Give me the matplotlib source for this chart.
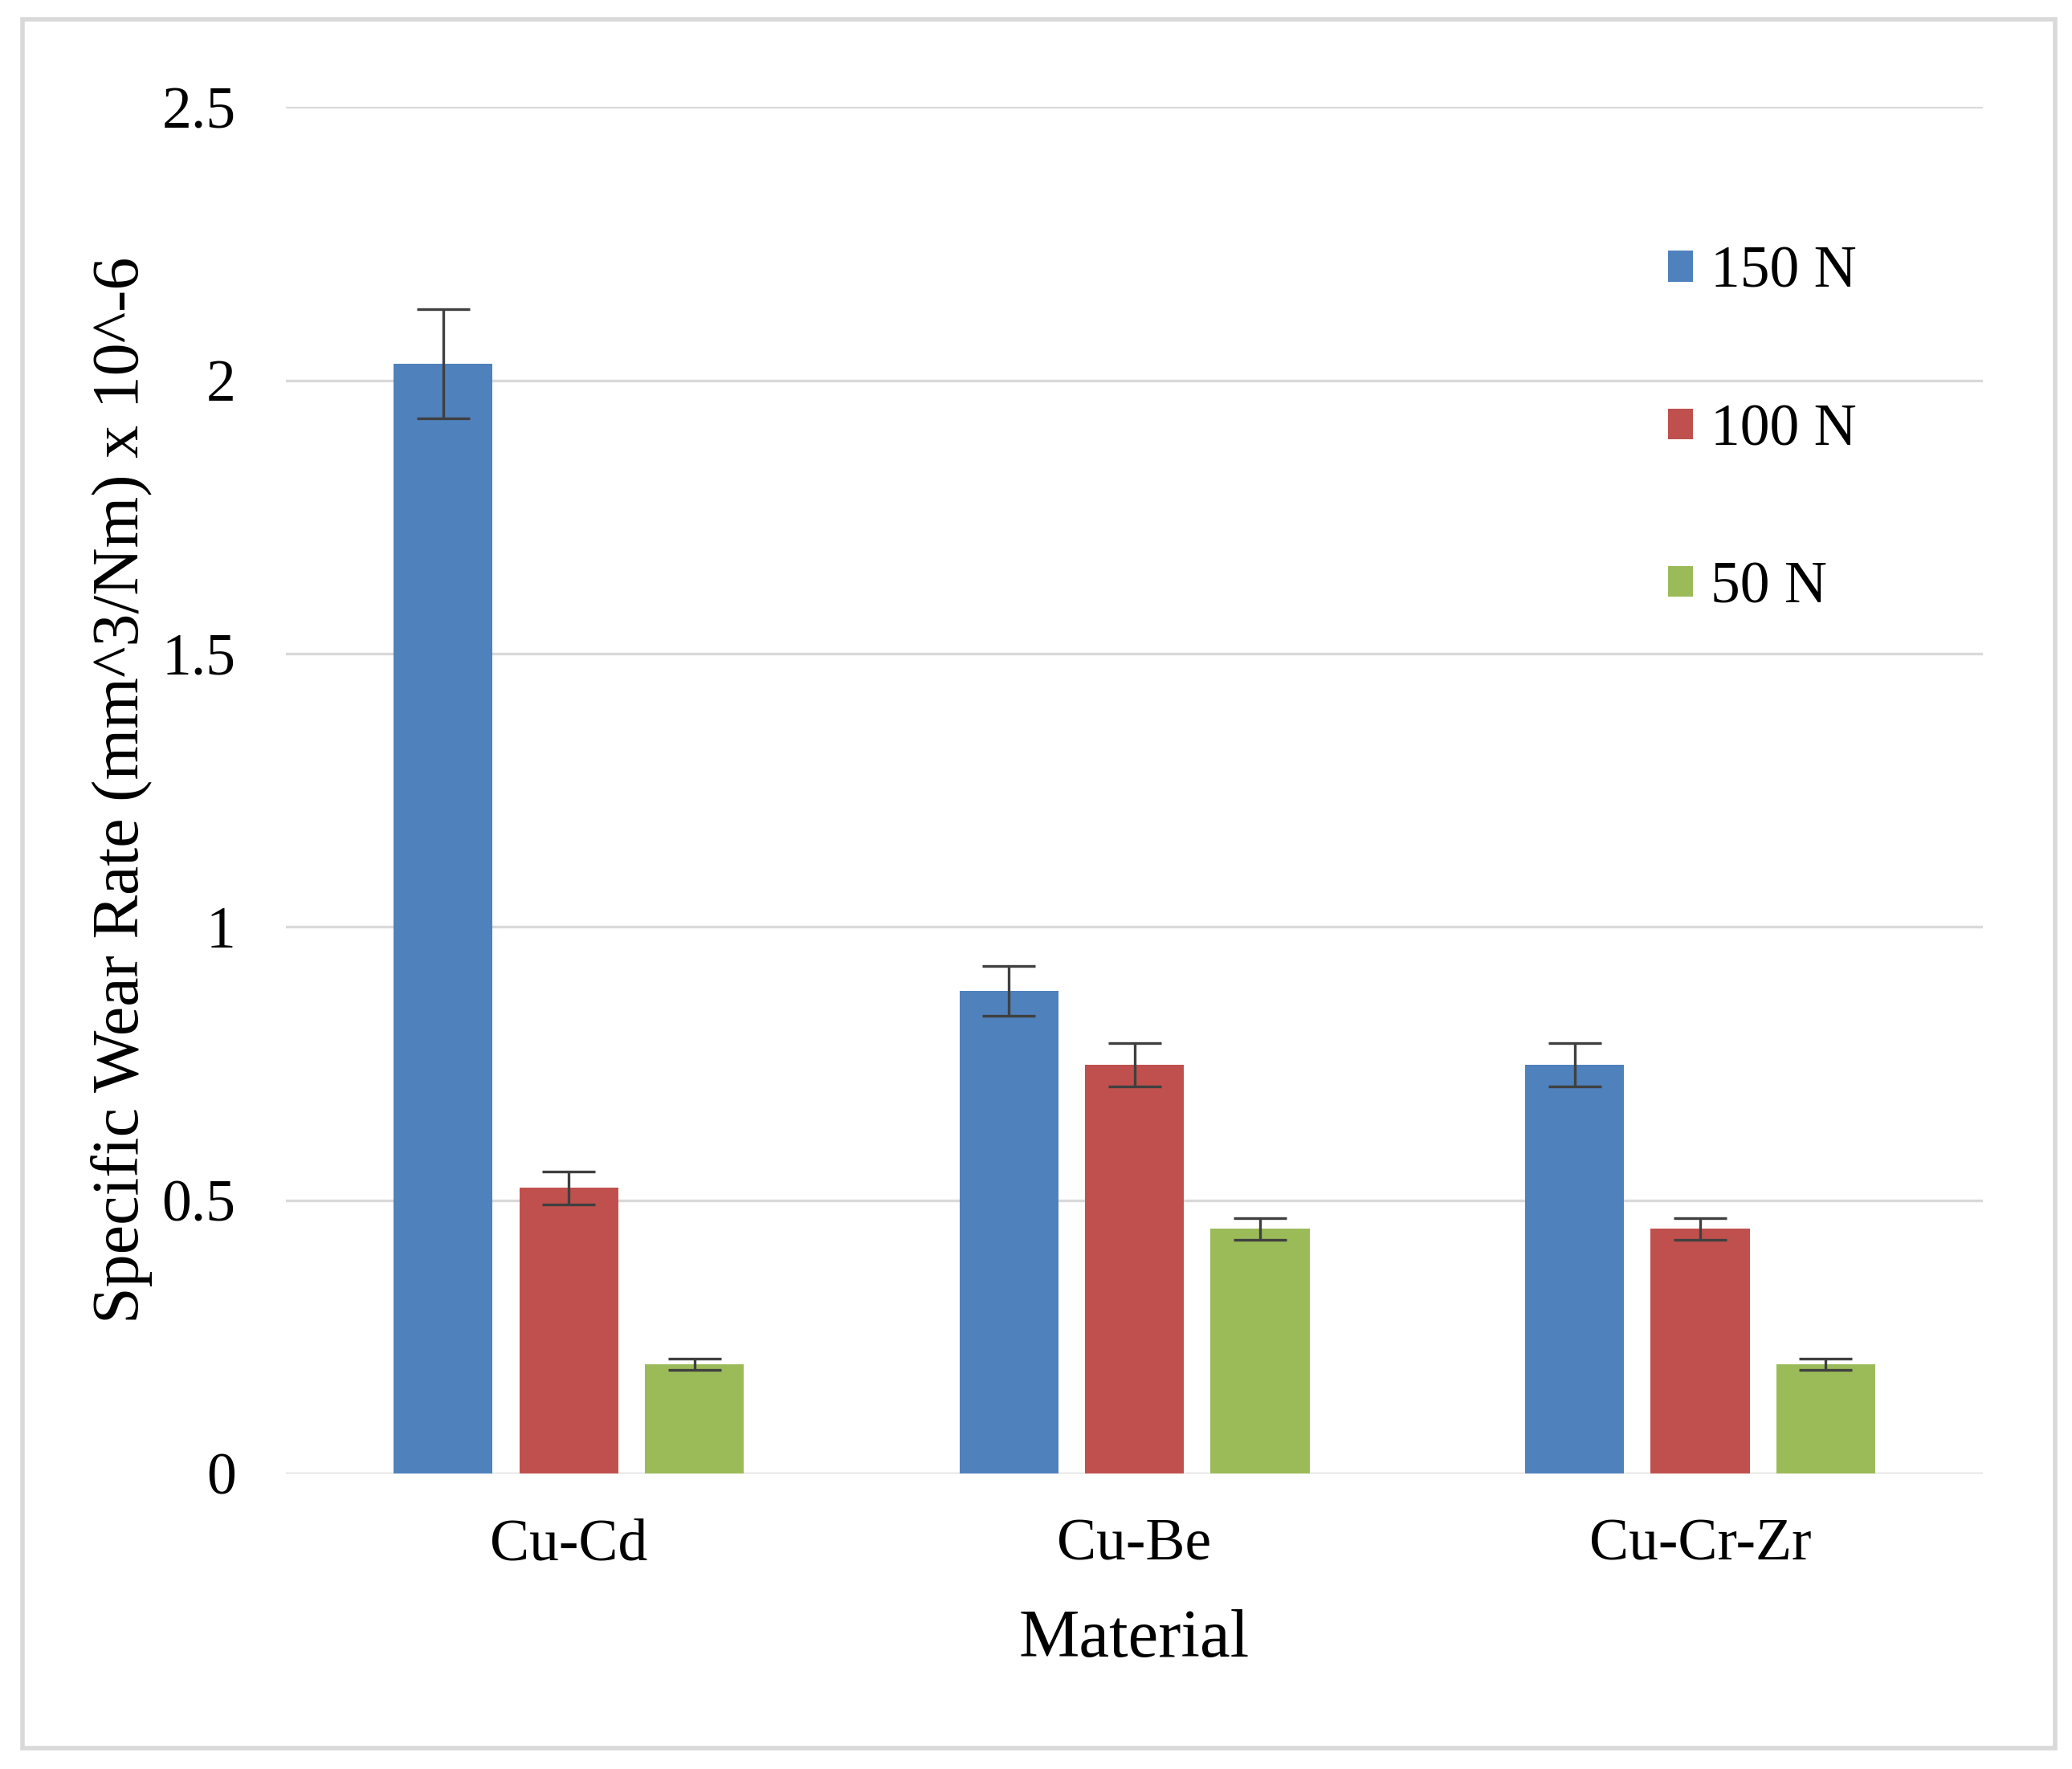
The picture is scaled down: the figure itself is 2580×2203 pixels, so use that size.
import matplotlib
matplotlib.use('Agg')
import matplotlib.pyplot as plt
import numpy as np
from matplotlib.patches import Rectangle

plt.rcParams['font.family'] = ['Liberation Serif', 'DejaVu Serif']

materials = ['Cu-Cd', 'Cu-Be', 'Cu-Cr-Zr']
loads = ['150 N', '100 N', '50 N']
rate_150 = [2.03, 0.883, 0.748]
rate_100 = [0.523, 0.748, 0.448]
rate_50 = [0.200, 0.448, 0.200]
err_150 = [0.10, 0.045, 0.04]
err_100 = [0.03, 0.04, 0.02]
err_50 = [0.01, 0.02, 0.01]

colors = ['#4F81BD', '#C0504D', '#9BBB59']

fig = plt.figure(figsize=(25.8, 22.03), dpi=100)
ax = fig.add_axes([0.138, 0.167, 0.819, 0.7725])

x = np.arange(len(materials))
width = 0.175
step = 0.222

series = [rate_150, rate_100, rate_50]
errs = [err_150, err_100, err_50]
for i, (vals, e) in enumerate(zip(series, errs)):
    ax.bar(x + (i - 1) * step, vals, width, color=colors[i], label=loads[i],
           yerr=e, capsize=24, zorder=3,
           error_kw=dict(ecolor='#404040', elinewidth=2.4, capthick=2.4))

ax.set_xlim(-0.5, 2.5)
ax.set_ylim(0, 2.5)
ax.set_yticks([0, 0.5, 1, 1.5, 2, 2.5])
ax.set_yticklabels(['0', '0.5', '1', '1.5', '2', '2.5'])
ax.set_xticks(x)
ax.set_xticklabels(materials)
ax.yaxis.grid(True, color='#D9D9D9', lw=2.4, zorder=0)
ax.set_axisbelow(True)
for s in ax.spines.values():
    s.set_visible(False)
ax.tick_params(axis='both', length=0, labelsize=53)
ax.tick_params(axis='y', pad=45)
ax.tick_params(axis='x', pad=40)

ax.set_xlabel('Material', fontsize=61, labelpad=33)
ax.set_ylabel('Specific Wear Rate (mm^3/Nm) x 10^-6', fontsize=59, labelpad=8)

ax.legend(loc='upper left', bbox_to_anchor=(0.797, 0.92), frameon=False,
          fontsize=53, handlelength=0.42, handleheight=0.42,
          handletextpad=0.3, labelspacing=1.75, borderpad=0)

fig.patches.append(Rectangle((0.011, 0.012), 0.981, 0.977, transform=fig.transFigure,
                             fill=False, edgecolor='#D9D9D9', lw=4))

plt.savefig('out.png', dpi=100)
